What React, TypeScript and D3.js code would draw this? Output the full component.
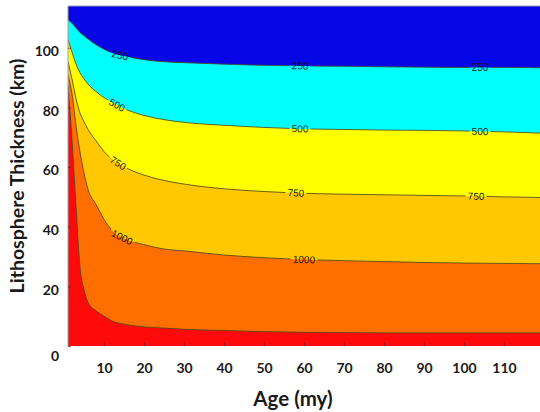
import React, { useEffect, useRef } from 'react';
import * as d3 from 'd3';

// age (my) sample points, left edge of plot to right edge
const ages = [1, 2, 3, 4, 5, 6, 8, 10, 12.5, 15, 20, 25, 30, 40, 50, 60, 70, 80, 90, 100, 110, 119];

// isotherm depth (km)
const iso250 = [109.4, 108.2, 106.6, 105.1, 104, 102.9, 101.0, 99.5, 98.0, 97.2, 96.0, 95.3, 95.0, 94.5, 94.1, 93.9, 93.8, 93.6, 93.5, 93.4, 93.4, 93.3];
const iso500 = [102.7, 98.5, 94.5, 91.6, 89.6, 87.8, 85.3, 83.3, 81.3, 79.6, 77.3, 75.9, 75.0, 74.0, 73.3, 72.8, 72.6, 72.4, 72.3, 72.1, 71.8, 71.4];
const iso750 = [95.3, 89.5, 83, 78.1, 75.2, 72.6, 68.8, 65.2, 62.1, 60.1, 57.3, 55.5, 54.3, 52.7, 51.8, 51.2, 50.9, 50.7, 50.5, 50.3, 50.0, 49.8];
const iso1000 = [90.9, 84.5, 74, 65, 58, 52.5, 47.5, 42.5, 38.0, 36.0, 34.0, 32.5, 31.9, 30.5, 29.6, 29.0, 28.6, 28.3, 28.0, 27.8, 27.7, 27.6];
const iso1250 = [87.5, 69, 47, 26.3, 19, 14.6, 11.8, 10, 8.1, 7.3, 6.4, 6.0, 5.6, 5.2, 4.8, 4.6, 4.5, 4.4, 4.4, 4.4, 4.4, 4.4];

const bandColors = ['#00ffff', '#ffff00', '#ffc800', '#ff6e00', '#ff0a0a'];
const topColor = '#0606e6';

const xTicks = [10, 20, 30, 40, 50, 60, 70, 80, 90, 100, 110];
const yTicks = [0, 20, 40, 60, 80, 100];

// contour labels: text and age where it sits
const labelText = ['250', '500', '750', '1000'];
const labelAges = [[14, 59, 104], [13.25, 59, 104], [13.5, 58, 103], [14.5, 60]];

function App() {
  const ref = useRef<SVGSVGElement>(null);

  useEffect(() => {
    const left = 68, right = 540, top = 6, bottom = 346;
    const x = d3.scaleLinear().domain([1, 119]).range([left, right]);
    const y = d3.scaleLinear().domain([0, 114]).range([bottom, top]);

    const svg = d3.select(ref.current);
    svg.selectAll('*').remove();

    const isos = [iso250, iso500, iso750, iso1000, iso1250];

    // mask so contour lines break under labels
    const defs = svg.append('defs');
    const mask = defs.append('mask').attr('id', 'lbl-mask').attr('maskUnits', 'userSpaceOnUse')
      .attr('x', 0).attr('y', 0).attr('width', 540).attr('height', 412);
    mask.append('rect').attr('width', 540).attr('height', 412).attr('fill', 'white');
    defs.append('clipPath').attr('id', 'plot-clip')
      .append('rect').attr('x', left).attr('y', top).attr('width', right - left).attr('height', bottom - top);

    const labels: { x: number, y: number, a: number, t: string }[] = [];
    labelAges.forEach((list, i) => {
      const f = d3.scaleLinear().domain(ages).range(isos[i]);
      list.forEach(age => {
        const x0 = x(age - 1.5), x1 = x(age + 1.5);
        const y0 = y(f(age - 1.5)), y1 = y(f(age + 1.5));
        labels.push({ x: x(age), y: y(f(age)), a: Math.atan2(y1 - y0, x1 - x0) * 180 / Math.PI, t: labelText[i] });
      });
    });
    labels.forEach(l => {
      const w = l.t.length * 6 + 3;
      mask.append('rect')
        .attr('x', -w / 2).attr('y', -4).attr('width', w).attr('height', 8)
        .attr('fill', 'black')
        .attr('transform', `translate(${l.x},${l.y}) rotate(${l.a})`);
    });

    const plot = svg.append('g').attr('clip-path', 'url(#plot-clip)');
    plot.append('rect')
      .attr('x', left).attr('y', top).attr('width', right - left).attr('height', bottom - top)
      .attr('fill', topColor);

    isos.forEach((iso, i) => {
      const area = d3.area<number>()
        .x((d, j) => x(ages[j]))
        .y0(y(0))
        .y1(d => y(d))
        .curve(d3.curveMonotoneX);
      plot.append('path').datum(iso).attr('d', area).attr('fill', bandColors[i]);
    });

    const lines = plot.append('g').attr('mask', 'url(#lbl-mask)');
    isos.forEach(iso => {
      const line = d3.line<number>()
        .x((d, j) => x(ages[j]))
        .y(d => y(d))
        .curve(d3.curveMonotoneX);
      lines.append('path').datum(iso).attr('d', line)
        .attr('fill', 'none').attr('stroke', '#4d4a20').attr('stroke-width', 1).attr('stroke-opacity', 0.85);
    });

    labels.forEach(l => {
      plot.append('text')
        .attr('transform', `translate(${l.x},${l.y}) rotate(${l.a})`)
        .attr('text-anchor', 'middle').attr('dy', '0.35em')
        .style('font-family', '"Liberation Sans", Arial, sans-serif')
        .style('font-size', '10px')
        .attr('fill', '#151515')
        .text(l.t);
    });

    // frame
    svg.append('path')
      .attr('d', `M${right},${top}H${left}V${bottom}`)
      .attr('fill', 'none').attr('stroke', '#9aa0b0').attr('stroke-width', 1);

    // axes
    const xAxis = svg.append('g')
      .attr('transform', `translate(0,${bottom})`)
      .call(d3.axisBottom(x).tickValues(xTicks).tickSizeInner(-3).tickSizeOuter(0).tickPadding(17));
    const yAxis = svg.append('g')
      .attr('transform', `translate(${left},0)`)
      .call(d3.axisLeft(y).tickValues(yTicks).tickSizeInner(-3).tickSizeOuter(0).tickPadding(9));

    [xAxis, yAxis].forEach(g => {
      g.select('.domain').remove();
      g.selectAll('.tick line').attr('stroke', '#5a2020').attr('stroke-opacity', 0.7);
      g.selectAll('.tick text')
        .style('font-family', 'Lato, "Open Sans", sans-serif')
        .style('font-weight', 'bold')
        .style('font-size', '14px')
        .attr('fill', '#1a1a1a');
    });
    yAxis.selectAll('.tick text').attr('dy', '0.55em');
    yAxis.selectAll('.tick').filter(d => d === 0).select('text').attr('dy', '1.05em');

    svg.append('text')
      .attr('x', 293).attr('y', 399).attr('dy', '0.35em')
      .attr('text-anchor', 'middle')
      .style('font-family', 'Lato, "Open Sans", sans-serif')
      .style('font-weight', 'bold').style('font-size', '20.5px')
      .attr('fill', '#1a1a1a')
      .text('Age (my)');

    svg.append('text')
      .attr('transform', 'translate(17,176) rotate(-90)')
      .attr('dy', '0.35em')
      .attr('text-anchor', 'middle')
      .style('font-family', 'Lato, "Open Sans", sans-serif')
      .style('font-weight', 'bold').style('font-size', '19.5px')
      .attr('fill', '#1a1a1a')
      .text('Lithosphere Thickness (km)');
  }, []);

  return (
    <svg ref={ref} width={540} height={412}
      style={{ position: 'absolute', left: 0, top: 0, background: 'white' }} />
  );
}

export default App;
